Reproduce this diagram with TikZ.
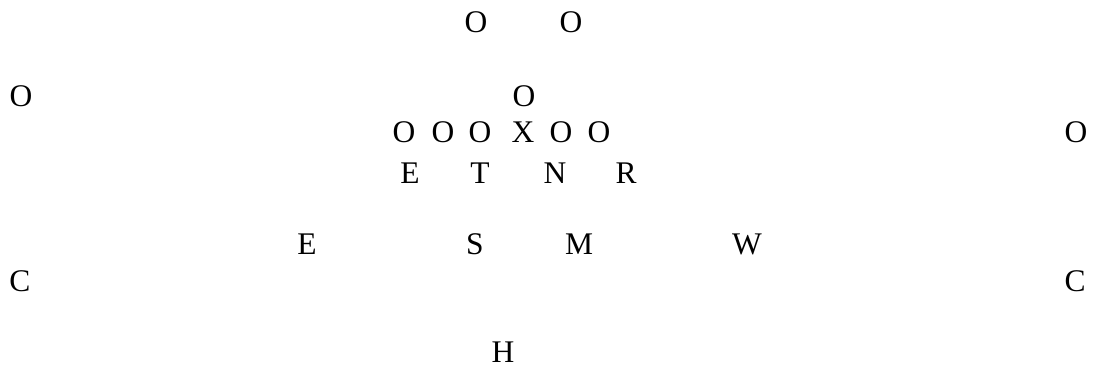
\documentclass[tikz,border=0pt]{standalone}
\usepackage{fontspec}
\setmainfont{Liberation Serif}
\begin{document}
\begin{tikzpicture}[x=1pt,y=-1pt,
  lbl/.style={inner sep=0pt,anchor=base,font=\fontsize{31.5}{36}\selectfont}]
\useasboundingbox (0,0) rectangle (1093,367);
% top row
\node[lbl] (t1) at (476,32) {O};
\node[lbl] (t2) at (571,32) {O};
% second row
\node[lbl] (l1) at (21,106) {O};
\node[lbl] (m1) at (524,106) {O};
% line row
\node[lbl] (r1) at (404,142) {O};
\node[lbl] (r2) at (443,142) {O};
\node[lbl] (r3) at (480,142) {O};
\node[lbl] (rx) at (523,142) {X};
\node[lbl] (r4) at (561,142) {O};
\node[lbl] (r5) at (599,142) {O};
\node[lbl] (ro) at (1076,142) {O};
% defensive line
\node[lbl] (de) at (410,183) {E};
\node[lbl] (dt) at (480,183) {T};
\node[lbl] (dn) at (555,183) {N};
\node[lbl] (dr) at (626,183) {R};
% linebackers
\node[lbl] (le) at (307,254) {E};
\node[lbl] (ls) at (475,254) {S};
\node[lbl] (lm) at (579,254) {M};
\node[lbl] (lw) at (747,254) {W};
% corners
\node[lbl] (cl) at (20,291) {C};
\node[lbl] (cr) at (1075,291) {C};
% safety
\node[lbl] (sh) at (503,362) {H};
\end{tikzpicture}
\end{document}
